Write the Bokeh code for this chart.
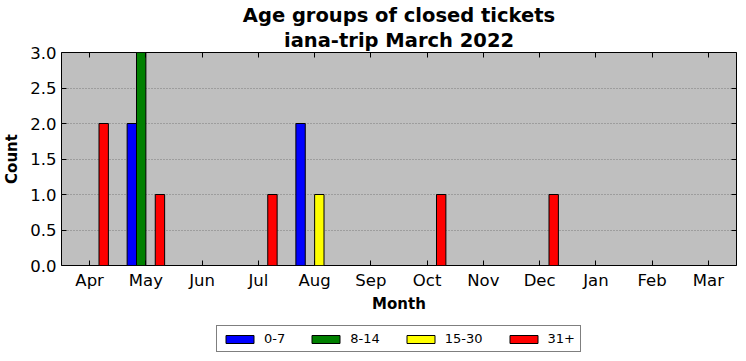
from bokeh.plotting import figure
from bokeh.layouts import column
from bokeh.models import (ColumnDataSource, FixedTicker, NumeralTickFormatter, LinearAxis,
                          Title, Legend, LegendItem, Range1d)
from bokeh.transform import dodge
from bokeh.embed import file_html
from bokeh.resources import INLINE

months = ["Apr", "May", "Jun", "Jul", "Aug", "Sep", "Oct", "Nov", "Dec", "Jan", "Feb", "Mar"]
age_groups = ["0-7", "8-14", "15-30", "31+"]
counts_0_7 = [0, 2, 0, 0, 2, 0, 0, 0, 0, 0, 0, 0]
counts_8_14 = [0, 3, 0, 0, 0, 0, 0, 0, 0, 0, 0, 0]
counts_15_30 = [0, 0, 0, 0, 1, 0, 0, 0, 0, 0, 0, 0]
counts_31_plus = [2, 1, 0, 1, 0, 0, 1, 0, 1, 0, 0, 0]
y_ticks = [0.0, 0.5, 1.0, 1.5, 2.0, 2.5, 3.0]

series = [counts_0_7, counts_8_14, counts_15_30, counts_31_plus]
colors = ["#0000ff", "#008000", "#ffff00", "#ff0000"]
bar_w = 1 / 6
offsets = [-1.5 * bar_w, -0.5 * bar_w, 0.5 * bar_w, 1.5 * bar_w]

FONT = "DejaVu Sans"

p = figure(frame_width=675, frame_height=213, output_backend="svg", toolbar_location=None,
           x_range=Range1d(-0.5, len(months) - 0.5), y_range=Range1d(0, 3),
           min_border_left=54, min_border_right=1, min_border_top=52, min_border_bottom=51,
           background_fill_color="#bfbfbf", border_fill_color="white",
           outline_line_color="black", outline_line_width=1)

data = {"idx": list(range(len(months)))}
for g, s in zip(age_groups, series):
    data[g] = s
src = ColumnDataSource(data)

for g, c, off in zip(age_groups, colors, offsets):
    p.vbar(x=dodge("idx", off, range=p.x_range), top=g, width=bar_w, bottom=0,
           source=src, fill_color=c, line_color="black", line_width=1)

# axes
xa = p.xaxis[0]
xa.ticker = FixedTicker(ticks=list(range(len(months))))
xa.major_label_overrides = {i: m for i, m in enumerate(months)}
ya = p.yaxis[0]
ya.ticker = FixedTicker(ticks=y_ticks)
ya.formatter = NumeralTickFormatter(format="0.0")
for ax in (xa, ya):
    ax.axis_line_color = None
    ax.major_tick_in = 5
    ax.major_tick_out = 0
    ax.minor_tick_in = 0
    ax.minor_tick_out = 0
    ax.minor_tick_line_color = None
    ax.major_tick_line_color = "black"
    ax.major_tick_line_width = 1
    ax.major_label_text_font = FONT
    ax.major_label_text_font_size = "16.5px"
    ax.major_label_text_color = "black"
    ax.major_label_standoff = 5
    ax.axis_label_text_font = FONT
    ax.axis_label_text_font_size = "15px"
    ax.axis_label_text_font_style = "bold"
    ax.axis_label_text_color = "black"
xa.axis_label = "Month"
xa.axis_label_standoff = 2
ya.axis_label = "Count"
ya.axis_label_standoff = 6

# mirrored ticks on top and right
top_ax = LinearAxis(ticker=FixedTicker(ticks=list(range(len(months)))),
                    major_label_overrides={i: "" for i in range(len(months))})
right_ax = LinearAxis(ticker=FixedTicker(ticks=y_ticks),
                      major_label_overrides={t: "" for t in y_ticks})
for ax in (top_ax, right_ax):
    ax.axis_line_color = None
    ax.major_tick_in = 5
    ax.major_tick_out = 0
    ax.minor_tick_in = 0
    ax.minor_tick_out = 0
    ax.minor_tick_line_color = None
    ax.major_tick_line_color = "black"
    ax.major_label_text_font_size = "1px"
    ax.major_label_text_alpha = 0
    ax.major_label_standoff = 0
p.add_layout(top_ax, "above")
p.add_layout(right_ax, "right")

p.xgrid.grid_line_color = None
p.ygrid.ticker = FixedTicker(ticks=y_ticks)
p.ygrid.grid_line_color = "#7a7a7a"
p.ygrid.grid_line_dash = "1 2"
p.ygrid.grid_line_width = 1

# titles
t2 = Title(text="iana-trip March 2022", align="center", text_font=FONT,
           text_font_size="19.5px", text_font_style="bold", text_color="black", standoff=1)
t1 = Title(text="Age groups of closed tickets", align="center", text_font=FONT,
           text_font_size="19.5px", text_font_style="bold", text_color="black", standoff=0)
p.add_layout(t2, "above")
p.add_layout(t1, "above")

# legend strip below the chart
lf = figure(width=730, height=37, output_backend="svg", toolbar_location=None,
            x_range=Range1d(0, 1), y_range=Range1d(0, 1),
            x_axis_type=None, y_axis_type=None,
            min_border_left=0, min_border_right=0, min_border_top=0, min_border_bottom=0,
            outline_line_color=None, background_fill_color="white", border_fill_color="white")
lf.grid.visible = False
items = []
for g, c in zip(age_groups, colors):
    r = lf.vbar(x="idx", top=g, width=bar_w, source=src, fill_color=c,
                line_color="black", line_width=1, visible=False)
    items.append(LegendItem(label=g, renderers=[r]))

legend = Legend(items=items, orientation="horizontal", location=(155, 1),
                label_text_font=FONT, label_text_font_size="13px", label_text_color="black",
                glyph_width=35, glyph_height=10, label_standoff=7, spacing=23, padding=5,
                margin=0,
                border_line_color="black", border_line_width=1,
                background_fill_color="white", background_fill_alpha=1)
lf.add_layout(legend, "center")

layout = column(p, lf, spacing=0)
open("out.html", "w").write(file_html(layout, INLINE))
